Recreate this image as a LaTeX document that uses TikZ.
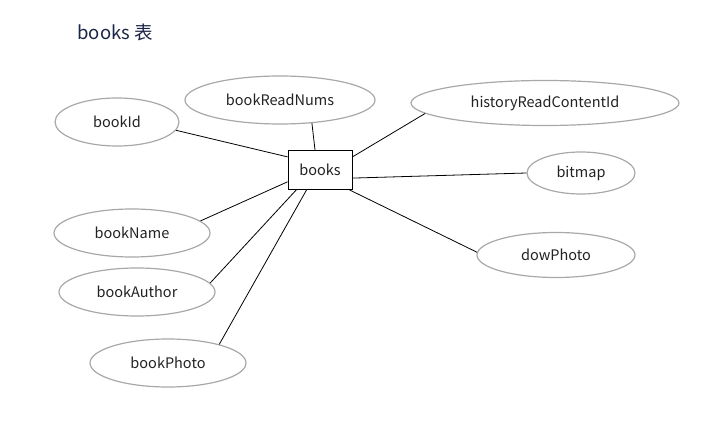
\documentclass[tikz,border=0pt]{standalone}
\usepackage{fontspec}
\setmainfont{Noto Sans CJK SC}
\usetikzlibrary{shapes.geometric}
\definecolor{titleblue}{HTML}{1B2547}
\definecolor{attrgray}{HTML}{A8A8A8}
\definecolor{labeltext}{HTML}{222222}
\begin{document}
\begin{tikzpicture}[x=1pt, y=-1pt,
    attr/.style={ellipse, draw=attrgray, line width=1.2pt, inner sep=0pt, text=labeltext, font=\fontsize{14.5}{16}\selectfont},
    entity/.style={draw=black, line width=0.9pt, minimum width=64pt, minimum height=39pt, inner sep=0pt, text=labeltext, font=\fontsize{14.5}{16}\selectfont},
    link/.style={draw=black, line width=0.8pt}]
    \useasboundingbox (0, 0) rectangle (725, 430);

    % Title
    \node[anchor=west, text=titleblue, font=\fontsize{18.5}{20}\selectfont] (title) at (74, 32) {books 表};

    % Entity
    \node[entity] (books) at (320, 170) {books};

    % Attributes, left side
    \node[attr, minimum width=124pt, minimum height=48pt] (bookId) at (117, 122) {bookId};
    \node[attr, minimum width=190pt, minimum height=48pt] (bookReadNums) at (280, 100) {bookReadNums};
    \node[attr, minimum width=156pt, minimum height=48pt] (bookName) at (132, 233) {bookName};
    \node[attr, minimum width=156pt, minimum height=48pt] (bookAuthor) at (137, 292) {bookAuthor};
    \node[attr, minimum width=156pt, minimum height=48pt] (bookPhoto) at (168, 363) {bookPhoto};

    % Attributes, right side
    \node[attr, minimum width=268pt, minimum height=45pt] (historyReadContentId) at (545, 103) {historyReadContentId};
    \node[attr, minimum width=108pt, minimum height=42pt] (bitmap) at (581, 173) {bitmap};
    \node[attr, minimum width=158pt, minimum height=45pt] (dowPhoto) at (556, 255) {dowPhoto};

    % Links
    \draw[link] (bookId.-8.5) -- (books.158);
    \draw[link] (bookReadNums.-36) -- (books.104);
    \draw[link] (historyReadContentId.185) -- (books.22);
    \draw[link] (bitmap.180) -- (books.-14);
    \draw[link] (dowPhoto.178) -- (books.-34);
    \draw[link] (bookName.10) -- (books.200);
    \draw[link] (bookAuthor.7) -- (books.220);
    \draw[link] (bookPhoto.20) -- (books.236);
\end{tikzpicture}
\end{document}
